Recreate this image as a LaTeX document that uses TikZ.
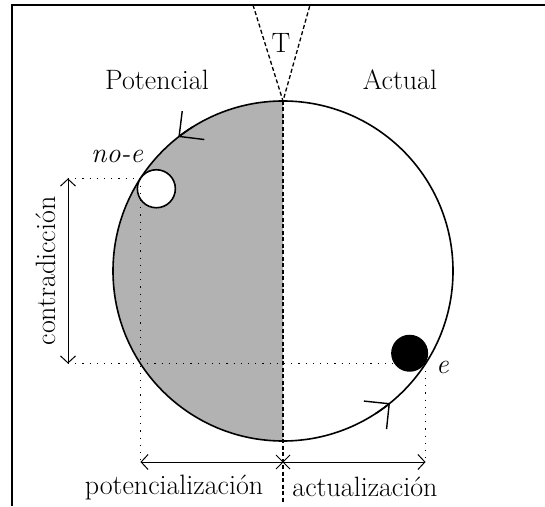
\documentclass[tikz,border=0pt]{standalone}
\usepackage{fontspec}
\usepackage{tikz}
\usetikzlibrary{arrows.meta,positioning,calc}

\begin{document}
\begin{tikzpicture}[
  x=1pt, y=1pt,
  font=\fontsize{28}{32}\selectfont,
  lbl/.style={inner sep=0pt},
  rim/.style={line width=1.6pt},
  dots/.style={line width=1pt, dash pattern=on 1.2pt off 6pt},
  axis/.style={line width=1.3pt, dash pattern=on 4pt off 2.5pt},
  sw/.style={-{Straight Barb[length=18pt,width=36pt,line width=1.4pt]}, line width=1.6pt},
  span/.style={{Straight Barb[length=7pt,width=15pt]}-{Straight Barb[length=7pt,width=15pt]}, line width=1pt}
]
\useasboundingbox (0,0) rectangle (545,506);
% frame
\draw[line width=1.2pt] (12,0) -- (12,501) -- (545,501);

% circle and its potential half
\coordinate (c) at (283,235);
\coordinate (top) at (283,405);
\fill[black!30] (top) arc (90:270:170) -- cycle;
\draw[rim] (c) circle (170);

% the two poles, tangent inside the circle
\coordinate (A) at ($(c)+(147:170)$);
\coordinate (B) at ($(c)+(-33:170)$);
\fill[white] ($(c)+(147:151)$) circle (19);
\draw[rim] ($(c)+(147:151)$) circle (19);
\fill[black] ($(c)+(-33:151)$) circle (18.5);

% T and the axis
\draw[axis] (253,501) -- (top) -- (310,501);
\draw[axis] (top) -- (283,3);
\node[lbl] (T) at (281,463) {T};
\node[lbl] (pot) at (157,426) {Potencial};
\node[lbl] (act) at (400,426) {Actual};
\node[lbl, font=\fontsize{28}{32}\selectfont\itshape] (noe) at (117,350) {no-e};
\node[lbl, font=\fontsize{28}{32}\selectfont\itshape, anchor=west] (e) at (436,139) {e};

% sense of the cycle
\draw[sw] ($(c)+(122:170)$) arc (122:128:170);
\draw[sw] ($(c)+(-57:170)$) arc (-57:-51:170);

% contradiction
\coordinate (cA) at (68,0 |- A);
\coordinate (cB) at (68,0 |- B);
\draw[dots] (cA) -- (A);
\draw[dots] (cB) -- (B);
\draw[span] (cA) -- (cB);
\node[lbl, rotate=90] (contra) at (46,235) {contradicción};

% potentialization and actualization
\coordinate (pA) at (A |- 0,44);
\coordinate (pB) at (B |- 0,44);
\coordinate (x) at (283,44);
\draw[dots] (A) -- (pA);
\draw[dots] (B) -- (pB);
\draw[span] (pA) -- (pB);
\draw[line width=1pt] ($(x)+(-7,7)$) -- ($(x)+(7,-7)$) ($(x)+(-7,-7)$) -- ($(x)+(7,7)$);
\node[lbl] (potz) at (174,19) {potencialización};
\node[lbl] (actz) at (365,19) {actualización};
\end{tikzpicture}
\end{document}
